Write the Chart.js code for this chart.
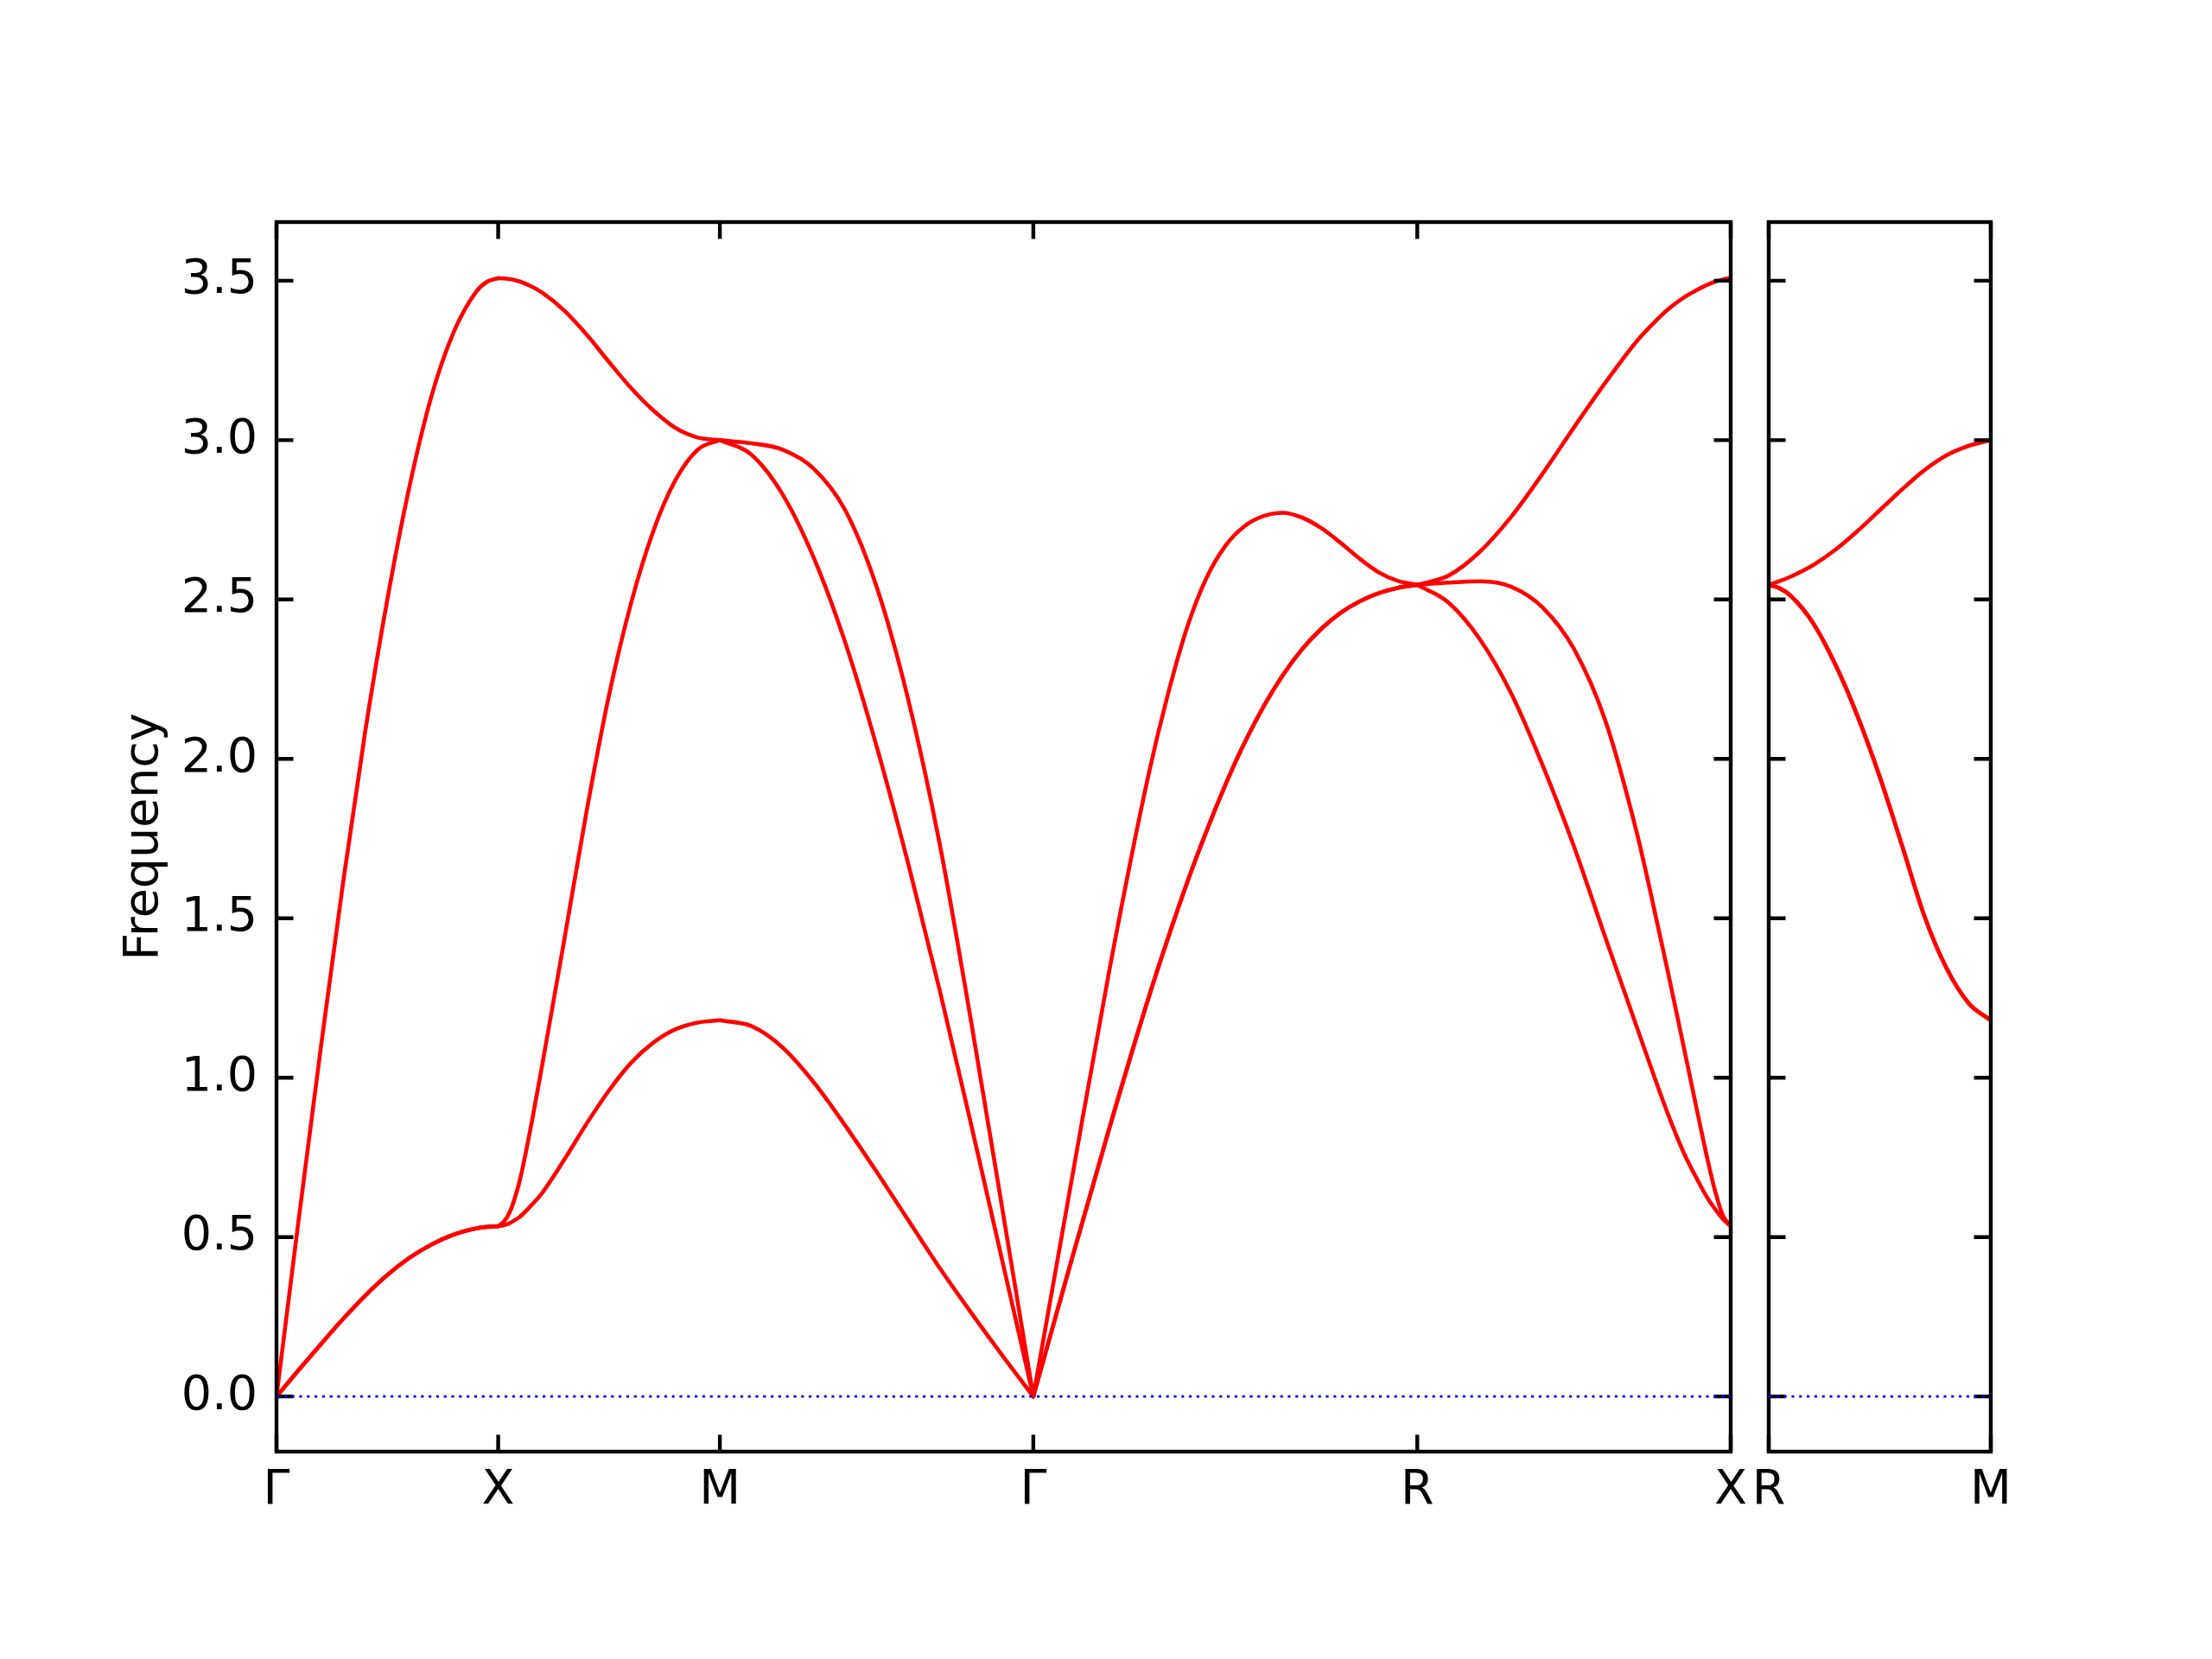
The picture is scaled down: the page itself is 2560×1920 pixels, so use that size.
<!DOCTYPE html>
<html>
<head>
<meta charset="utf-8">
<title>Phonon bands</title>
<script src="https://cdn.jsdelivr.net/npm/chart.js@4.4.1/dist/chart.umd.min.js"></script>
<style>
  html, body { margin: 0; padding: 0; background: #fff; }
  #wrap { position: relative; width: 2560px; height: 1920px; background: #fff; }
  canvas { position: absolute; top: 0; }
  #main { left: 0; }
  #side { left: 2000px; }
</style>
</head>
<body>
<div id="wrap">
  <canvas id="main" width="2040" height="1920"></canvas>
  <canvas id="side" width="560" height="1920"></canvas>
</div>
<script>
// ── Data ──────────────────────────────────────────────────────────
// k-path Γ–X–M–Γ–R–X, then a separate R–M panel

const mainTickLabels = ['Γ', 'X', 'M', 'Γ', 'R', 'X'];
const segLengths = [1, 1, 1.414, 1.732, 1.414];   // Γ-X, X-M, M-Γ, Γ-R, R-X
const sideTickLabels = ['R', 'M'];
const sideLength = 1;

const yTickValues = [0, 0.5, 1.0, 1.5, 2.0, 2.5, 3.0, 3.5];
const Y_MIN = -0.173;
const Y_MAX = 3.684;

// sample positions along each segment (fraction of the segment)
const kFrac   = [0, 0.1, 0.2, 0.3, 0.4, 0.5, 0.6, 0.7, 0.8, 0.9, 1];
const kFracGX = [0, 0.1, 0.2, 0.3, 0.4, 0.5, 0.6, 0.7, 0.8, 0.9, 0.95, 1];
const kFracXM = [0, 0.025, 0.05, 0.075, 0.1, 0.15, 0.2, 0.3, 0.4, 0.5, 0.6, 0.7, 0.8, 0.9, 1];
const kFracGR = [0, 0.1, 0.2, 0.3, 0.35, 0.4, 0.45, 0.5, 0.55, 0.6, 0.65, 0.7, 0.75, 0.8, 0.85, 0.9, 0.95, 1];
const kFracRX = [0, 0.1, 0.2, 0.3, 0.4, 0.5, 0.6, 0.7, 0.75, 0.8, 0.85, 0.9, 0.925, 0.95, 0.975, 1];
const kFracRM = [0, 0.05, 0.1, 0.2, 0.3, 0.4, 0.5, 0.6, 0.7, 0.8, 0.9, 1];

// Γ–X
const gxTA = [0, 0.083, 0.164, 0.243, 0.316, 0.381, 0.435, 0.477, 0.508, 0.527, 0.532, 0.534];
const gxLA = [0, 0.555, 1.095, 1.61, 2.085, 2.50, 2.855, 3.14, 3.34, 3.465, 3.497, 3.508];

// X–M
const xmLow = [0.534, 0.537, 0.543, 0.553, 0.565, 0.60, 0.64, 0.745, 0.857, 0.96, 1.047, 1.11, 1.152, 1.173, 1.18];
const xmMid = [0.534, 0.548, 0.575, 0.622, 0.685, 0.855, 1.045, 1.44, 1.84, 2.20, 2.49, 2.715, 2.875, 2.97, 3.0];
const xmTop = [3.508, 3.507, 3.505, 3.502, 3.497, 3.482, 3.462, 3.405, 3.33, 3.245, 3.163, 3.093, 3.038, 3.008, 3.0];

// M–Γ
const mgLow = [1.18, 1.162, 1.095, 0.985, 0.85, 0.705, 0.555, 0.405, 0.265, 0.13, 0];
const mgIn  = [3.0, 2.955, 2.83, 2.63, 2.365, 2.04, 1.675, 1.28, 0.86, 0.43, 0];
const mgOut = [3.0, 2.99, 2.97, 2.91, 2.78, 2.54, 2.19, 1.74, 1.185, 0.595, 0];

// Γ–R
const grTA = [0, 0.43, 0.85, 1.25, 1.435, 1.61, 1.77, 1.918, 2.05, 2.165, 2.263, 2.344,
              2.408, 2.458, 2.494, 2.52, 2.537, 2.546];
const grLA = [0, 0.68, 1.35, 1.95, 2.20, 2.41, 2.565, 2.668, 2.73, 2.762, 2.772, 2.757,
              2.724, 2.678, 2.628, 2.585, 2.558, 2.546];

// R–X
const rxLow = [2.546, 2.49, 2.375, 2.205, 1.98, 1.725, 1.44, 1.16, 1.02, 0.885, 0.765,
               0.668, 0.624, 0.588, 0.557, 0.534];
const rxMid = [2.546, 2.553, 2.557, 2.54, 2.475, 2.345, 2.12, 1.77, 1.555, 1.33, 1.097,
               0.862, 0.748, 0.645, 0.568, 0.534];
const rxTop = [2.546, 2.575, 2.65, 2.76, 2.895, 3.04, 3.18, 3.31, 3.363, 3.41, 3.447,
               3.475, 3.487, 3.497, 3.504, 3.508];

// R–M (side panel)
const rmLow = [2.546, 2.535, 2.511, 2.426, 2.296, 2.134, 1.944, 1.729, 1.509, 1.344, 1.234, 1.18];
const rmTop = [2.546, 2.558, 2.572, 2.608, 2.656, 2.715, 2.78, 2.845, 2.905, 2.952, 2.982, 3.0];

// ── Styles ────────────────────────────────────────────────────────

const FONT = { family: 'DejaVu Sans', size: 55.5 };
const BAND_COLOR = '#ff0000';
const BAND_LW = 4.6;
const AXIS_LW = 4.4;
const TICK_LEN = 19.5;

// ── Helpers ───────────────────────────────────────────────────────

const mainTickPos = segLengths.reduce((acc, l) => { acc.push(acc[acc.length - 1] + l); return acc; }, [0]);
const pathEnd = mainTickPos[mainTickPos.length - 1];

function bandDatasets(start, len, frac, bands) {
  return bands.map(vals => ({
    data: vals.map((v, i) => ({ x: start + frac[i] * len, y: v })),
    borderColor: BAND_COLOR,
    borderWidth: BAND_LW,
    borderJoinStyle: 'round',
    borderCapStyle: 'round',
    cubicInterpolationMode: 'monotone',
    pointRadius: 0,
    fill: false,
    order: 1
  }));
}

function zeroLine(xMax) {
  return {
    zeroLine: true,
    data: [{ x: 0, y: 0 }, { x: xMax, y: 0 }],
    borderColor: '#0000ff',
    borderWidth: 2.8,
    borderDash: [3.2, 5.6],
    pointRadius: 0,
    fill: false,
    order: 0
  };
}

function drawFrame(chart) {
  const { ctx, chartArea: a, scales: { x, y } } = chart;
  ctx.save();
  ctx.strokeStyle = '#000';
  ctx.lineWidth = AXIS_LW;
  ctx.lineCap = 'butt';
  ctx.beginPath();
  yTickValues.forEach(v => {
    const py = y.getPixelForValue(v);
    ctx.moveTo(a.left, py); ctx.lineTo(a.left + TICK_LEN, py);
    ctx.moveTo(a.right, py); ctx.lineTo(a.right - TICK_LEN, py);
  });
  x.ticks.forEach(t => {
    const px = x.getPixelForValue(t.value);
    ctx.moveTo(px, a.bottom); ctx.lineTo(px, a.bottom - TICK_LEN);
    ctx.moveTo(px, a.top); ctx.lineTo(px, a.top + TICK_LEN);
  });
  ctx.stroke();
  ctx.lineJoin = 'miter';
  ctx.strokeRect(a.left, a.top, a.right - a.left, a.bottom - a.top);
  ctx.restore();
}

// frame + inward ticks go over the bands, under the dotted zero line
const framePlugin = {
  id: 'frameTicks',
  beforeDatasetDraw(chart, args) {
    if (chart.data.datasets[args.index].zeroLine) drawFrame(chart);
  }
};

function makeOptions(o) {
  return {
    responsive: false,
    animation: false,
    devicePixelRatio: 1,
    layout: { padding: o.padding },
    plugins: { legend: { display: false }, tooltip: { enabled: false } },
    scales: {
      x: {
        type: 'linear', min: 0, max: o.xMax,
        grid: { display: false, drawTicks: false },
        border: { display: false },
        afterBuildTicks: s => { s.ticks = o.xTicks.map(v => ({ value: v })); },
        afterFit: s => { s.height = 240; },
        ticks: {
          autoSkip: false, maxRotation: 0, minRotation: 0, padding: 12,
          color: '#000', font: FONT,
          callback: (v, i) => o.xLabels[i]
        }
      },
      y: {
        type: 'linear', min: Y_MIN, max: Y_MAX,
        grid: { display: false, drawTicks: false },
        border: { display: false },
        afterBuildTicks: s => { s.ticks = yTickValues.map(v => ({ value: v })); },
        afterFit: s => { s.width = o.yWidth; },
        ticks: {
          display: o.showY, padding: 22, color: '#000', font: FONT,
          callback: v => v.toFixed(1)
        },
        title: {
          display: o.showY, text: 'Frequency', color: '#000', font: FONT,
          padding: { top: 134, bottom: 0 }
        }
      }
    }
  };
}

// ── Main panel ────────────────────────────────────────────────────

const s = mainTickPos;
const mainSets = [
  ...bandDatasets(s[0], segLengths[0], kFracGX, [gxTA, gxTA, gxLA]),
  ...bandDatasets(s[1], segLengths[1], kFracXM, [xmLow, xmMid, xmTop]),
  ...bandDatasets(s[2], segLengths[2], kFrac,   [mgLow, mgIn, mgOut]),
  ...bandDatasets(s[3], segLengths[3], kFracGR, [grTA, grTA, grLA]),
  ...bandDatasets(s[4], segLengths[4], kFracRX, [rxLow, rxMid, rxTop]),
  zeroLine(pathEnd)
];

new Chart(document.getElementById('main'), {
  type: 'line',
  data: { datasets: mainSets },
  options: makeOptions({
    padding: { top: 257, right: 37, left: 0, bottom: 0 },
    xMax: pathEnd, xTicks: mainTickPos, xLabels: mainTickLabels,
    yWidth: 320, showY: true
  }),
  plugins: [framePlugin]
});

// ── Side panel R–M ────────────────────────────────────────────────

const sideSets = [
  ...bandDatasets(0, sideLength, kFracRM, [rmLow, rmLow, rmTop]),
  zeroLine(sideLength)
];

new Chart(document.getElementById('side'), {
  type: 'line',
  data: { datasets: sideSets },
  options: makeOptions({
    padding: { top: 257, right: 256, left: 0, bottom: 0 },
    xMax: sideLength, xTicks: [0, sideLength], xLabels: sideTickLabels,
    yWidth: 47, showY: false
  }),
  plugins: [framePlugin]
});
</script>
</body>
</html>
